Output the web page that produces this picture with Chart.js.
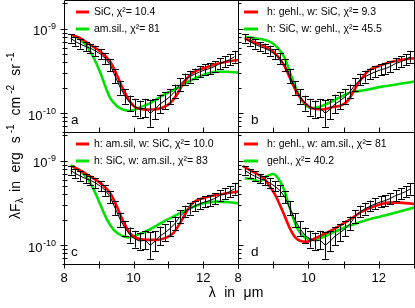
<!DOCTYPE html>
<html><head><meta charset="utf-8">
<script src="https://cdn.jsdelivr.net/npm/chart.js@4/dist/chart.umd.min.js"></script>
<style>
html,body{margin:0;padding:0;background:#fff;}
#wrap{position:relative;width:415px;height:308px;overflow:hidden;}
#wrap canvas{position:absolute;left:0;top:0;}
</style></head><body>
<div id="wrap">
<canvas id="pa" width="415" height="308"></canvas>
<canvas id="pb" width="415" height="308"></canvas>
<canvas id="pc" width="415" height="308"></canvas>
<canvas id="pd" width="415" height="308"></canvas>
</div>
<script>
// ---- observed spectrum (same in all panels) ----
const lambdaObs = [8.19,8.33,8.47,8.62,8.76,8.90,9.05,9.19,9.33,9.47,9.62,9.76,9.90,10.05,10.19,10.33,10.48,10.62,10.76,10.90,11.05,11.19,11.33,11.48,11.62,11.76,11.90,12.05,12.19,12.33,12.48,12.62,12.76,12.90];
const fluxObs = [7.74e-10,7.08e-10,6.6e-10,6.17e-10,5.89e-10,5.5e-10,5.0e-10,4.47e-10,3.72e-10,2.75e-10,2.0e-10,1.58e-10,1.32e-10,1.18e-10,1.12e-10,1.15e-10,1.0e-10,1.12e-10,1.29e-10,1.41e-10,1.58e-10,1.82e-10,2.19e-10,2.51e-10,2.72e-10,2.92e-10,3.09e-10,3.27e-10,3.39e-10,3.59e-10,3.89e-10,4.07e-10,4.32e-10,4.68e-10];
const errObsDex = [0.05,0.05,0.055,0.055,0.055,0.06,0.06,0.065,0.07,0.08,0.08,0.085,0.09,0.1,0.1,0.11,0.16,0.12,0.11,0.1,0.09,0.08,0.075,0.07,0.07,0.065,0.065,0.065,0.065,0.065,0.065,0.065,0.065,0.07];

// ---- panel a ----
const aRedLambda = [8.24,8.48,8.76,9.05,9.33,9.52,9.71,9.90,10.05,10.29,10.57,10.86,11.05,11.24,11.43,11.62,11.81,12.10,12.38,12.67,13.0];
const aRedFlux = [8.5e-10,7.74e-10,6.45e-10,5.37e-10,4.08e-10,2.84e-10,1.89e-10,1.37e-10,1.18e-10,1.11e-10,1.11e-10,1.18e-10,1.32e-10,1.65e-10,2.26e-10,2.84e-10,3.2e-10,3.51e-10,3.83e-10,4.08e-10,4.28e-10];
const aGreenLambda = [8.24,8.48,8.67,8.86,9.05,9.19,9.33,9.52,9.71,9.90,10.19,10.48,10.86,11.24,11.62,12.0,12.38,12.67,13.0];
const aGreenFlux = [8.5e-10,7.4e-10,6.16e-10,4.49e-10,2.98e-10,2.07e-10,1.51e-10,1.22e-10,1.10e-10,1.07e-10,1.18e-10,1.32e-10,1.65e-10,1.98e-10,2.43e-10,2.84e-10,3.11e-10,3.11e-10,3.03e-10];
// ---- panel b ----
const bRedLambda = [8.19,8.48,8.76,8.95,9.14,9.33,9.52,9.71,9.90,10.10,10.38,10.67,10.95,11.14,11.33,11.52,11.71,12.0,12.38,12.76,13.0];
const bRedFlux = [7.7e-10,6.9e-10,6.16e-10,5.62e-10,4.67e-10,3.56e-10,2.37e-10,1.65e-10,1.32e-10,1.15e-10,1.11e-10,1.18e-10,1.25e-10,1.44e-10,1.98e-10,2.6e-10,3.2e-10,3.63e-10,4.08e-10,4.36e-10,4.49e-10];
const bGreenLambda = [8.19,8.48,8.76,8.95,9.14,9.33,9.52,9.67,9.81,9.95,10.10,10.38,10.76,11.14,11.62,12.10,12.57,13.0];
const bGreenFlux = [8.09e-10,7.74e-10,7.4e-10,6.9e-10,5.9e-10,4.49e-10,2.71e-10,1.89e-10,1.44e-10,1.22e-10,1.15e-10,1.22e-10,1.44e-10,1.73e-10,1.89e-10,2.07e-10,2.22e-10,2.37e-10];
// ---- panel c ----
const cRedLambda = [8.24,8.48,8.76,9.05,9.33,9.52,9.71,9.90,10.10,10.38,10.67,10.95,11.14,11.33,11.52,11.71,12.0,12.38,12.76,13.0];
const cRedFlux = [8.7e-10,7.65e-10,6.5e-10,5.43e-10,4.13e-10,2.87e-10,1.9e-10,1.39e-10,1.21e-10,1.16e-10,1.16e-10,1.24e-10,1.39e-10,1.82e-10,2.5e-10,3.2e-10,3.6e-10,3.94e-10,4.2e-10,4.32e-10];
const cGreenLambda = [8.19,8.48,8.67,8.86,9.05,9.24,9.43,9.67,9.86,10.10,10.48,10.86,11.24,11.62,12.0,12.38,12.76,13.0];
const cGreenFlux = [8.94e-10,7.45e-10,6.22e-10,4.52e-10,3.0e-10,2.0e-10,1.52e-10,1.29e-10,1.24e-10,1.32e-10,1.55e-10,1.9e-10,2.29e-10,2.74e-10,3.15e-10,3.29e-10,3.24e-10,3.15e-10];
// ---- panel d ----
const dRedLambda = [8.14,8.38,8.57,8.76,8.90,9.05,9.19,9.33,9.47,9.62,9.76,9.95,10.10,10.38,10.76,11.14,11.52,11.90,12.29,12.57,13.0];
const dRedFlux = [8.7e-10,7.6e-10,6.9e-10,6.1e-10,5.0e-10,4.0e-10,3.0e-10,2.2e-10,1.6e-10,1.25e-10,1.13e-10,1.1e-10,1.16e-10,1.32e-10,1.59e-10,1.97e-10,2.5e-10,2.92e-10,3.2e-10,3.2e-10,3.09e-10];
const dGreenLambda = [8.19,8.43,8.62,8.81,9.0,9.14,9.29,9.43,9.57,9.71,9.90,10.10,10.38,10.76,11.14,11.62,12.10,12.57,13.0];
const dGreenFlux = [6.22e-10,6.05e-10,5.7e-10,6.5e-10,7.0e-10,6.22e-10,4.73e-10,3.15e-10,2.09e-10,1.52e-10,1.24e-10,1.18e-10,1.24e-10,1.45e-10,1.69e-10,1.97e-10,2.22e-10,2.5e-10,2.8e-10];

// ---- axis ticks / labels ----
const xTicks = [8,9,10,11,12,13];
const xTickLabels = [8,10,12];
const yMajorTicks = [1e-10,1e-9];
const yMinorTicks = [6e-11,7e-11,8e-11,9e-11,2e-10,3e-10,4e-10,5e-10,6e-10,7e-10,8e-10,9e-10,2e-9];
const yTickExp = ['-10','-9'];
const panelLetters = ['a','b','c','d'];
const redLabels = ['SiC, \u03c7\u00b2= 10.4','h: gehl., w: SiC, \u03c7\u00b2= 9.3','h: am.sil, w: SiC, \u03c7\u00b2= 10.0','h: gehl., w: am.sil., \u03c7\u00b2= 81'];
const greenLabels = ['am.sil., \u03c7\u00b2= 81','h: SiC, w: gehl., \u03c7\u00b2= 45.5','h: SiC, w: am.sil., \u03c7\u00b2= 83','gehl., \u03c7\u00b2= 40.2'];

// ---- layout geometry ----
const W = 415, H = 308;
const COLS = [64, 238, 414];
const ROWS = [0, 132, 264];
const FONT = '"Liberation Sans", Arial, Helvetica, sans-serif';
const RED = '#ff0000', GREEN = '#00e000';

function pts(xs, ys){ return xs.map((x,i)=>({x:x, y:ys[i]})); }

const decor = {
  id: 'decor',
  afterDatasetsDraw(chart){
    const ctx = chart.ctx, xs = chart.scales.x, ys = chart.scales.y;
    // error bars
    chart.data.datasets.forEach(ds=>{
      if(!ds.errDex) return;
      ctx.save();
      ctx.strokeStyle = '#000'; ctx.lineWidth = 1;
      ds.data.forEach((p,i)=>{
        const px = Math.round(xs.getPixelForValue(p.x)) + 0.5;
        const f = Math.pow(10, ds.errDex[i]);
        const lo = ys.getPixelForValue(p.y / f), hi = ys.getPixelForValue(p.y * f);
        ctx.beginPath();
        ctx.moveTo(px, lo); ctx.lineTo(px, hi);
        ctx.moveTo(px-3.5, Math.round(lo)+0.5); ctx.lineTo(px+3.5, Math.round(lo)+0.5);
        ctx.moveTo(px-3.5, Math.round(hi)+0.5); ctx.lineTo(px+3.5, Math.round(hi)+0.5);
        ctx.stroke();
      });
      ctx.restore();
    });
  },
  afterDraw(chart, args, o){
    const ctx = chart.ctx, xs = chart.scales.x, ys = chart.scales.y, ca = chart.chartArea;
    const L = Math.round(ca.left)+0.5, R = Math.round(ca.right)+0.5, T = Math.round(ca.top)+0.5, B = Math.round(ca.bottom)+0.5;
    ctx.save();
    ctx.strokeStyle = '#000'; ctx.lineWidth = 1;
    ctx.beginPath();
    ctx.rect(L, T, R-L, B-T);
    // x ticks
    xTicks.forEach(v=>{
      const px = Math.round(xs.getPixelForValue(v))+0.5;
      if(o.bottomRow){ ctx.moveTo(px, B-3); ctx.lineTo(px, B+4); }
      else { ctx.moveTo(px, B-5); ctx.lineTo(px, B); }
    });
    // y ticks
    const yt = (v, len)=>{
      const py = Math.round(ys.getPixelForValue(v))+0.5;
      if(o.leftCol){ ctx.moveTo(L-len+1, py); ctx.lineTo(L+3, py); }
      else { ctx.moveTo(L, py); ctx.lineTo(L+len, py); }
    };
    yMajorTicks.forEach(v=>yt(v,5));
    yMinorTicks.forEach(v=>yt(v,3));
    ctx.stroke();

    ctx.fillStyle = '#000';
    // y tick labels
    if(o.leftCol){
      yMajorTicks.forEach((v,i)=>{
        const py = ys.getPixelForValue(v);
        ctx.font = '9px ' + FONT; ctx.textAlign = 'right'; ctx.textBaseline = 'alphabetic';
        const sw = ctx.measureText(yTickExp[i]).width;
        ctx.fillText(yTickExp[i], 56, py + 0.5);
        ctx.font = '13px ' + FONT;
        ctx.fillText('10', 56 - sw - 0.5, py + 6.5);
      });
    }
    // x tick labels
    if(o.bottomRow){
      ctx.font = '13px ' + FONT; ctx.textAlign = 'center'; ctx.textBaseline = 'alphabetic';
      xTickLabels.forEach(v=>{
        ctx.fillText(String(v), xs.getPixelForValue(v), 282);
      });
    }
    // panel letter
    ctx.font = '13.5px ' + FONT; ctx.textAlign = 'left'; ctx.textBaseline = 'alphabetic';
    ctx.fillText(o.letter, ca.left + o.letterDx, ca.top + 123.5);
    // legend (from dataset labels/colours)
    ctx.font = '10.5px ' + FONT; ctx.textBaseline = 'middle';
    [1,2].forEach((di,k)=>{
      const ds = chart.data.datasets[di];
      const y = ca.top + 12 + 17*k;
      ctx.strokeStyle = ds.borderColor; ctx.lineWidth = 3;
      ctx.beginPath(); ctx.moveTo(ca.left + o.legX0, y); ctx.lineTo(ca.left + o.legX1, y); ctx.stroke();
      ctx.fillStyle = '#000';
      ctx.fillText(ds.label, ca.left + o.legTx, y + 0.5);
    });
    // axis titles (drawn once, by panel c)
    if(o.titles){
      // x title
      ctx.font = '14px ' + FONT; ctx.textBaseline = 'alphabetic'; ctx.textAlign = 'left';
      const words = ['\u03bb','in','\u03bcm'], gap = 8.5;
      let tw = words.reduce((s,w)=>s+ctx.measureText(w).width,0) + gap*(words.length-1);
      let x0 = 236 - tw/2;
      words.forEach(w=>{ ctx.fillText(w, x0, 297); x0 += ctx.measureText(w).width + gap; });
      // y title (rotated)
      ctx.save();
      ctx.translate(20, 219);
      ctx.rotate(-Math.PI/2);
      const segs = [
        {t:'\u03bbF', s:14, dy:0, g:0},
        {t:'\u03bb', s:10, dy:3, g:0.5},
        {t:'in', s:14, dy:0, g:6},
        {t:'erg', s:14, dy:0, g:8.5},
        {t:'s', s:14, dy:0, g:9},
        {t:'-1', s:10, dy:-6.5, g:3},
        {t:'cm', s:14, dy:0, g:9},
        {t:'-2', s:10, dy:-6.5, g:3},
        {t:'sr', s:14, dy:0, g:9},
        {t:'-1', s:10, dy:-6.5, g:3}
      ];
      let cx = 0;
      segs.forEach(sg=>{
        cx += sg.g;
        ctx.font = sg.s + 'px ' + FONT;
        ctx.fillText(sg.t, cx, sg.dy);
        cx += ctx.measureText(sg.t).width;
      });
      ctx.restore();
    }
    ctx.restore();
  }
};

const panels = [
  {id:'pa', col:0, row:0, red:[aRedLambda,aRedFlux], green:[aGreenLambda,aGreenFlux]},
  {id:'pb', col:1, row:0, red:[bRedLambda,bRedFlux], green:[bGreenLambda,bGreenFlux]},
  {id:'pc', col:0, row:1, red:[cRedLambda,cRedFlux], green:[cGreenLambda,cGreenFlux]},
  {id:'pd', col:1, row:1, red:[dRedLambda,dRedFlux], green:[dGreenLambda,dGreenFlux]}
];

panels.forEach((p,i)=>{
  const left = COLS[p.col], right = COLS[p.col+1], top = ROWS[p.row], bottom = ROWS[p.row+1];
  const leftCol = p.col === 0, bottomRow = p.row === 1;
  new Chart(document.getElementById(p.id), {
    type: 'line',
    data: { datasets: [
      {label:'observed', data: pts(lambdaObs, fluxObs), errDex: errObsDex, borderColor:'#000', borderWidth:1, pointRadius:0, tension:0, order:0},
      {label: redLabels[i], data: pts(p.red[0], p.red[1]), borderColor: RED, borderWidth:2.6, pointRadius:0, cubicInterpolationMode:'monotone', order:1},
      {label: greenLabels[i], data: pts(p.green[0], p.green[1]), borderColor: GREEN, borderWidth:2.6, pointRadius:0, cubicInterpolationMode:'monotone', order:2}
    ]},
    options: {
      responsive:false, animation:false, devicePixelRatio:1, events:[],
      layout:{ padding:{ left:left, top:top, right:W-right, bottom:H-bottom } },
      scales:{
        x:{ type:'linear', min:8, max:13, display:false },
        y:{ type:'logarithmic', min:6e-11, max:2.2e-9, display:false }
      },
      plugins:{
        legend:{display:false}, tooltip:{enabled:false},
        decor:{ leftCol:leftCol, bottomRow:bottomRow, letter:panelLetters[i],
                letterDx: leftCol ? 7 : 13,
                legX0: leftCol ? 12 : 6, legX1: leftCol ? 25 : 20, legTx: leftCol ? 30 : 29,
                titles: i === 2 }
      }
    },
    plugins:[decor]
  });
});
</script>
</body></html>
